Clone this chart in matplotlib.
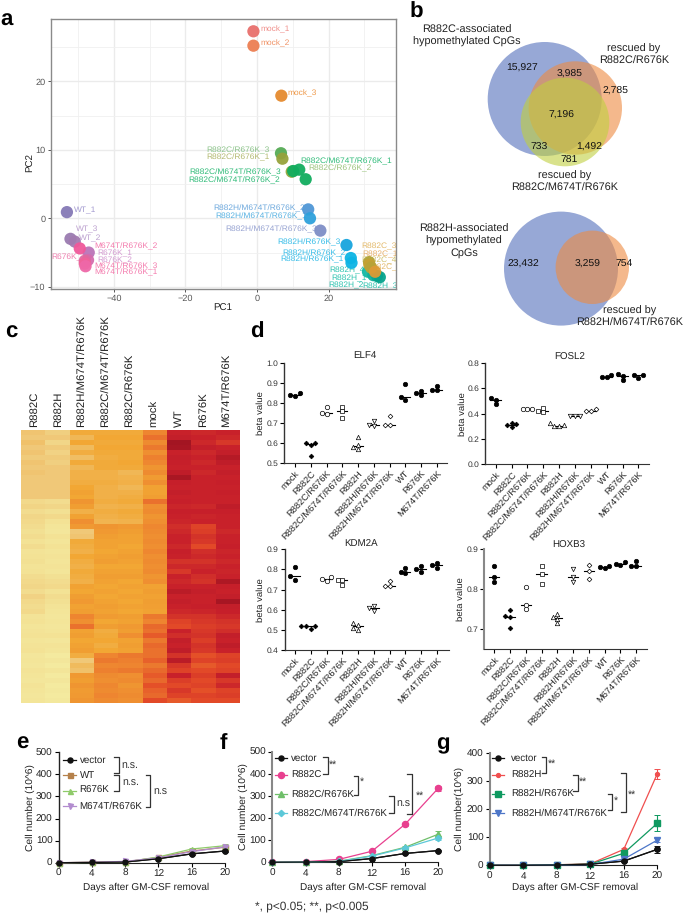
import numpy as np
import matplotlib
matplotlib.use('Agg')
import matplotlib.pyplot as plt
from matplotlib.colors import LinearSegmentedColormap
from matplotlib.patches import Circle

plt.rcParams['font.family'] = ['Liberation Sans', 'DejaVu Sans']
plt.rcParams['text.hinting'] = 'no_hinting'

W, H = 685, 914

# ------------------------------------------
# PANEL A DATA
pca_names = ['mock_1', 'mock_2', 'mock_3', 'R882C/R676K_3', 'R882C/R676K_1', 'R882C/R676K_2',
             'R882C/M674T/R676K_3', 'R882C/M674T/R676K_1', 'R882C/M674T/R676K_2',
             'R882H/M674T/R676K_2', 'R882H/M674T/R676K_1', 'R882H/M674T/R676K_3',
             'R882H/R676K_3', 'R882H/R676K_2', 'R882H/R676K_1',
             'R882H_4', 'R882H_1', 'R882H_2', 'R882H_3',
             'R882C_3', 'R882C_1', 'R882C_4', 'R882C_2',
             'WT_1', 'WT_3', 'WT_2', 'R676K_1', 'R676K_2', 'R676K_3',
             'M674T/R676K_2', 'M674T/R676K_3', 'M674T/R676K_1']
pca_x = [-1.0, -1.0, 6.8, 6.7, 7.1, 9.7, 10.1, 11.8, 13.6, 14.3, 14.8, 17.7, 25.0, 26.2, 26.4,
         31.0, 32.5, 33.5, 34.3, 31.3, 31.4, 31.9, 33.0,
         -53.1, -52.1, -50.9, -47.0, -47.2, -48.1, -49.5, -48.1, -47.9]
pca_y = [27.3, 25.2, 17.9, 9.5, 8.7, 6.8, 6.9, 7.1, 5.7, 1.3, 0.0, -1.8, -3.9, -5.8, -6.5,
         -7.8, -8.3, -8.4, -8.6, -6.4, -6.8, -7.2, -7.8,
         0.9, -3.0, -3.4, -5.0, -6.1, -6.2, -4.4, -6.6, -7.0]
pca_colors = ['#e8706c', '#ec7f52', '#e58a2e', '#56ab55', '#97a23c', '#8fa63a',
              '#12ad5f', '#12ad5f', '#12ad5f', '#4f97d6', '#2fa1dc', '#7e8ec6',
              '#18a5de', '#0db4e4', '#0db4e4', '#14b9a4', '#12b09a', '#0aa893', '#06a38d',
              '#b3a436', '#c4a133', '#b8a338', '#dd9a35',
              '#8579b6', '#9a7bb0', '#a27bb0', '#bb74b8', '#d46cae', '#e0689e',
              '#f0589a', '#f0629a', '#ee68a8']
pca_text_colors = ['#f0908c', '#f09468', '#ee9a4c', '#8cc38a', '#b3b970', '#9cc47e',
                   '#2fbb78', '#2fbb78', '#2fbb78', '#6ea9dd', '#58b2e2', '#98a4d2',
                   '#38bde8', '#38bde8', '#38bde8', '#2fc4b0', '#2fc4b0', '#2fc4b0', '#2fc4b0',
                   '#e3b96a', '#e8b06a', '#cfc06c', '#e3b96a',
                   '#a39ad0', '#bca0cf', '#bca0cf', '#d39ad0', '#d39ad0', '#ee7fae',
                   '#f47cae', '#f47cae', '#f47cae']
# label left edge and centre height, in 3x crop pixels
pca_label_pos = [(781, 87), (782, 130), (863, 281), (618, 451), (618, 471), (925, 504),
                 (569, 517), (902, 484), (566, 541), (641, 624), (645, 650), (677, 688),
                 (833, 728), (847, 760), (842, 778), (987, 810), (995, 836), (984, 857), (1086, 860),
                 (1085, 740), (1088, 762), (1085, 782), (1100, 803),
                 (222, 632), (229, 688), (237, 714), (292, 761), (292, 781), (153, 771),
                 (282, 738), (284, 800), (282, 818)]

# ------------------------------------------
# PANEL C DATA
heat_labels = ['R882C', 'R882H', 'R882H/M674T/R676K', 'R882C/M674T/R676K', 'R882C/R676K',
               'mock', 'WT', 'R676K', 'M674T/R676K']
heat_r882c = [.22, .2, .24, .2, .22, .18, .22, .2, .22, .2, .2, .2, .2, .2,
              .1, .13, .08, .12, .1, .08, .06, .08,
              .05, .08, .04, .05, .06, .04, .05, .08, .1,
              .12, .08, .14, .1, .08, .1,
              .04, .05, .03,
              .04, .05, .03, .04, .05,
              .02, .03, .02, .04,
              .03, .02, .04, .03, .02, .03]
heat_r882h = [.16, .2, .12, .18, .14, .18, .16, .2, .2, .2, .2, .2, .2, .2,
              .08, .12, .06, .1, .05, .03, .02, .05,
              .03, .05, .03, .04, .03, .04, .03, .06, .08,
              .1, .05, .08, .06, .04, .03,
              .02, .03, .02,
              .03, .05, .02, .04, .03,
              .0, .02, .0, .03,
              .0, .02, .0, .01, .0, .01]
heat_r882h_m = [.38, .3, .4, .28, .36, .26, .38, .3, .34, .34, .36, .4, .42, .4,
                .48, .44, .34, .42, .5, .46, .2, .22,
                .38, .36, .34, .4, .36, .34, .38, .36, .34,
                .42, .4, .44, .46, .42, .44,
                .55, .5, .6,
                .42, .44, .4, .42, .44,
                .36, .2, .28, .24,
                .46, .44, .48, .45, .46, .48]
heat_r882c_m = [.38, .4, .38, .4, .38, .36, .38, .38, .34, .34, .36, .34, .34, .34,
                .36, .33, .36, .34, .32, .48, .46, .44,
                .42, .42, .4, .42, .44, .4, .42, .44, .42,
                .4, .42, .4, .42, .44, .42,
                .45, .4, .44,
                .36, .38, .4, .36, .4,
                .55, .58, .54, .56,
                .52, .5, .54, .52, .55, .52]
heat_r882c_r = [.38, .4, .38, .4, .38, .38, .4, .38, .3, .33, .34, .3, .34, .36,
                .38, .34, .38, .36, .33, .46, .44, .42,
                .42, .4, .42, .44, .42, .4, .42, .44, .4,
                .42, .4, .42, .4, .42, .4,
                .44, .42, .46,
                .44, .5, .42, .44, .42,
                .58, .56, .55, .58,
                .5, .52, .48, .5, .52, .5]
heat_mock = [.55, .6, .52, .58, .5, .56, .54, .48, .52, .45, .5, .42, .42, .44,
             .6, .5, .52, .48, .5, .54, .52, .5,
             .52, .5, .54, .5, .52, .5, .52, .48, .5,
             .42, .44, .42, .44, .43, .42,
             .58, .55, .62,
             .6, .66, .58, .62, .6,
             .6, .64, .58, .62,
             .66, .62, .68, .64, .62, .7]
heat_wt = [.84, .86, 1.0, .98, .84, .86, .85, .84, .88, .97, .85, .84, .86, .84,
           .85, .83, .85, .84, .83, .8, .82, .84,
           .84, .82, .85, .84, .78, .82, .76, .84, .82,
           .84, .9, .84, .86, .84, .82,
           .78, .72, .7,
           .84, .8, .86, .84, .88,
           .78, .9, .76, .72,
           .84, .74, .7, .76, .72, .66]
heat_r676k = [.82, .84, .82, .86, .82, .84, .82, .84, .82, .84, .84, .84, .84, .84,
              .84, .82, .85, .83, .84, .72, .74, .78,
              .76, .7, .8, .82, .78, .82, .84, .8, .78,
              .84, .86, .84, .84, .85, .83,
              .78, .76, .74,
              .76, .78, .74, .78, .76,
              .68, .72, .66, .7,
              .74, .7, .72, .68, .72, .7]
heat_m674t = [.84, .82, .76, .84, .86, .92, .88, .84, .86, .84, .85, .84, .85, .84,
              .84, .88, .85, .84, .84, .84, .82, .84,
              .84, .85, .83, .84, .82, .84, .83, .84, .95,
              .85, .84, .86, .98, .86, .85,
              .82, .78, .76,
              .8, .86, .84, .88, .84,
              .72, .74, .7, .72,
              .86, .76, .82, .72, .74, .7]

# ------------------------------------------
# PANEL D DATA
beta_groups = ['mock', 'R882C', 'R882C/R676K', 'R882C/M674T/R676K', 'R882H', 'R882H/R676K',
               'R882H/M674T/R676K', 'WT', 'R676K', 'M674T/R676K']
beta_markers = ['o', 'D', 'o', 's', '^', 'v', 'D', 'o', 'o', 'o']
beta_filled = [True, True, False, False, False, False, False, True, True, True]
elf4 = [[.835, .848, .84], [.60, .59, .60, .535], [.78, .745, .75], [.778, .76, .723],
        [.63, .59, .57, .58], [.71, .685, .69], [.735, .688, .69],
        [.895, .83, .815], [.86, .84, .85], [.885, .865, .865]]
fosl2 = [[.525, .48, .51], [.295, .325, .31, .315], [.435, .435, .435], [.445, .41, .42],
         [.30, .325, .30, .31], [.385, .38, .385], [.42, .44, .425],
         [.69, .71, .695], [.715, .67, .70], [.685, .705, .705]]
kdm2a = [[.81, .765, .748], [.505, .52, .518, .518], [.745, .76, .755], [.75, .75, .725],
         [.535, .50, .525, .51], [.595, .62, .61], [.745, .72, .72],
         [.805, .78, .785], [.815, .785, .80], [.83, .805, .82]]
hoxb3 = [[.858, .83, .818], [.748, .732, .73, .703], [.805, .76, .75], [.857, .836, .813],
         [.729, .738, .724, .714], [.85, .83, .817], [.86, .845, .825],
         [.852, .857, .855], [.86, .868, .862], [.87, .856, .856]]

# ------------------------------------------
# PANELS E-G DATA
days = [0, 4, 8, 12, 16, 20]
e_names = ['vector', 'WT', 'R676K', 'M674T/R676K']
e_values = [[0, 1, 3, 18, 40, 53], [0, 2, 4, 24, 53, 70], [0, 1, 3, 26, 62, 77], [0, 2, 6, 22, 50, 72]]
e_errors = [[0, 0, 1, 2, 4, 5], [0, 0, 1, 2, 4, 6], [0, 0, 1, 2, 4, 6], [0, 0, 1, 2, 4, 6]]
f_names = ['vector', 'R882C', 'R882C/R676K', 'R882C/M674T/R676K']
f_values = [[0, 1, 3, 17, 40, 53], [0, 3, 13, 50, 172, 335], [0, 1, 5, 30, 68, 127], [0, 1, 4, 28, 65, 110]]
f_errors = [[0, 0, 1, 2, 3, 4], [0, 1, 2, 4, 6, 12], [0, 0, 1, 3, 4, 15], [0, 0, 1, 3, 4, 10]]
g_names = ['vector', 'R882H', 'R882H/R676K', 'R882H/M674T/R676K']
g_values = [[0, 0, 1, 4, 15, 57], [0, 0, 2, 5, 57, 327], [0, 0, 2, 4, 43, 150], [0, 0, 1, 3, 22, 90]]
g_errors = [[0, 0, 0, 1, 2, 12], [0, 0, 0, 1, 4, 17], [0, 0, 0, 1, 5, 28], [0, 0, 0, 1, 3, 6]]


fig = plt.figure(figsize=(W / 100, H / 100), dpi=100)


def axpx(left, top, right, bottom):
    return fig.add_axes([left / W, 1 - bottom / H, (right - left) / W, (bottom - top) / H])


# overlay in image pixels, for letters, venn shapes, brackets and hand-placed legends
ov = fig.add_axes([0, 0, 1, 1], zorder=10)
ov.set_xlim(0, W)
ov.set_ylim(H, 0)
ov.axis('off')
ov.patch.set_alpha(0)

for letter, lx, ly in [('a', 0, 26), ('b', 410, 18), ('c', 5, 338), ('d', 250, 338),
                       ('e', 16, 749), ('f', 220, 749), ('g', 436, 749)]:
    ov.text(lx, ly, letter, fontsize=16, fontweight='bold', ha='left', va='baseline', color='black')

# ------------------------------------------
# A: PCA
ax = axpx(51, 19, 396, 289)
ax.set_xlim((51 - 257) / 3.58, (396 - 257) / 3.58)
ax.set_ylim((218.3 - 289) / 6.85, (218.3 - 19) / 6.85)
ax.set_xticks([-40, -20, 0, 20])
ax.set_yticks([-10, 0, 10, 20])
ax.set_xticks([-50, -30, -10, 10, 30], minor=True)
ax.set_yticks([-5, 5, 15, 25], minor=True)
ax.grid(True, which='major', color='#ebebeb', lw=1)
ax.grid(True, which='minor', color='#f0f0f0', lw=0.6)
ax.set_axisbelow(True)
ax.tick_params(which='minor', length=0)
ax.tick_params(which='major', length=2.5, width=0.7, color='#555555', labelcolor='#555555',
               labelsize=6.6, pad=1.5)
for s in ax.spines.values():
    s.set_color('#8a8a8a')
    s.set_linewidth(1)
ov.text(223, 308, 'PC1', fontsize=7, ha='center', va='center', color='#222222')
ov.text(30.5, 163, 'PC2', fontsize=7, rotation=90, ha='center', va='center', color='#222222')
for name, tc, (zx, zy) in zip(pca_names, pca_text_colors, pca_label_pos):
    ax.text(zx / 3, zy / 3, name, transform=ov.transData, color=tc, fontsize=6, ha='left',
            va='center', zorder=2, clip_on=True)
ax.scatter(pca_x, pca_y, s=78, c=pca_colors, linewidths=0, alpha=0.95, zorder=3, clip_on=True)

# ------------------------------------------
# B: venn diagrams
blue, orange, green = '#97a8d6', '#ee8a40', '#c0d03f'
ov.add_patch(Circle((544.7, 99), 57, fc=blue, ec='none'))
ov.add_patch(Circle((575.3, 108), 46.7, fc=orange, ec='none', alpha=0.6))
ov.add_patch(Circle((565, 122), 44.3, fc=green, ec='none', alpha=0.6))
ov.add_patch(Circle((561, 268.6), 57, fc=blue, ec='none'))
ov.add_patch(Circle((592.3, 267.3), 36.7, fc=orange, ec='none', alpha=0.6))

venn_text = [('R882C-associated\nhypomethylated CpGs', 467, 36),
             ('rescued by\nR882C/R676K', 634, 55),
             ('rescued by\nR882C/M674T/R676K', 565, 182),
             ('R882H-associated\nhypomethylated\nCpGs', 464, 241),
             ('rescued by\nR882H/M674T/R676K', 630, 317)]
for txt, tx, ty in venn_text:
    ov.text(tx, ty, txt, fontsize=7.8, ha='center', va='center', color='#222222', linespacing=1.22)
venn_counts = [('15,927', 365, 203), ('3,985', 508, 221), ('2,785', 646, 273), ('7,196', 485, 344),
               ('733', 416, 441), ('1,492', 568, 441), ('781', 507, 481),
               ('23,432', 370, 791), ('3,259', 564, 791), ('754', 671, 791)]
for txt, zx, zy in venn_counts:
    ov.text(400 + zx / 3, zy / 3, txt, fontsize=7.5, ha='center', va='center', color='#111111')

# ------------------------------------------
# C: heatmap
heat = np.array([heat_r882c, heat_r882h, heat_r882h_m, heat_r882c_m, heat_r882c_r,
                 heat_mock, heat_wt, heat_r676k, heat_m674t]).T
cmap = LinearSegmentedColormap.from_list('heat', [(0, '#f4ea9f'), (.2, '#f0c878'), (.4, '#f2a734'),
                                                  (.55, '#ee8530'), (.7, '#e34a28'), (.85, '#c7202b'),
                                                  (1, '#a31522')])
ax = axpx(21, 430, 239, 703)
ax.imshow(heat, cmap=cmap, vmin=0, vmax=1, aspect='auto', interpolation='nearest')
ax.axis('off')
for i, name in enumerate(heat_labels):
    ov.text(21 + (i + 0.5) * 218 / 9 + 0.5, 427, name, rotation=90, fontsize=8.2, ha='center',
            va='bottom', color='#222222')


# ------------------------------------------
# D: beta value scatters
def swarm(values, ax_h, span, step=0.3, near=3.6):
    # spread points sideways when they would overlap, same idea as Prism
    placed = []
    out = {}
    for i in np.argsort(values):
        for off in [0, -step, step, -2 * step, 2 * step]:
            ok = True
            for v2, o2 in placed:
                dy = (values[i] - v2) / span * ax_h
                dx = (off - o2) * 15.8
                if dx * dx + dy * dy < near * near:
                    ok = False
            if ok:
                break
        placed.append((values[i], off))
        out[i] = off
    return [out[i] for i in range(len(values))]


def beta_panel(box, cat0, catw, ylim, yticks, title, title_xy, data, ylabelx, thick_left=False):
    left, top, right, bottom = box
    ax = axpx(left, top, right, bottom)
    ax.set_xlim((left - cat0) / catw, (right - cat0) / catw)
    ax.set_ylim(*ylim)
    ax.set_yticks(yticks)
    ax.set_yticklabels(['%.1f' % t for t in yticks])
    ax.set_xticks(range(len(beta_groups)))
    ax.set_xticklabels(beta_groups, rotation=47, ha='right', rotation_mode='anchor', fontsize=6.7,
                       color='#222222')
    for i, vals in enumerate(data):
        offs = swarm(vals, bottom - top, ylim[1] - ylim[0])
        ax.plot([i - .33, i + .33], [np.median(vals)] * 2, color='black', lw=0.8, zorder=2)
        size = 2.4 if beta_markers[i] == 'D' else 3.2
        fc = 'black' if beta_filled[i] else 'white'
        ax.plot(np.array(offs) + i, vals, ls='none', marker=beta_markers[i], ms=size, mfc=fc,
                mec='black', mew=0.5, zorder=3)
    ax.spines['top'].set_visible(False)
    ax.spines['right'].set_visible(False)
    ax.spines['left'].set_color('#888888' if thick_left else '#333333')
    ax.spines['left'].set_linewidth(1.5 if thick_left else 1)
    ax.spines['bottom'].set_color('#333333')
    ax.tick_params(axis='y', labelsize=6.1, length=3, width=0.8, pad=1.2, labelcolor='#333333')
    ax.tick_params(axis='x', length=3, width=0.8, pad=1.5)
    ax.patch.set_alpha(0)
    ov.text(title_xy[0], title_xy[1], title, fontsize=7, ha='center', va='center', color='#222222')
    ov.text(ylabelx, (top + bottom) / 2, 'beta value', fontsize=6.8, rotation=90, ha='center', va='center',
            color='#222222')


beta_panel((284.3, 362.7, 447, 463), 295, 15.75, (0.5, 1.0), [.5, .6, .7, .8, .9, 1.0], 'ELF4', (364.7, 355.7),
           elf4, 261)
beta_panel((485.3, 363.3, 648.7, 464), 495.7, 15.85, (0, 0.8), [0, .2, .4, .6, .8], 'FOSL2', (569.3, 357),
           fosl2, 462.5)
beta_panel((284.7, 549.3, 448.7, 650), 295, 15.75, (0.4, 0.9), [.4, .5, .6, .7, .8, .9], 'KDM2A', (360.7, 543),
           kdm2a, 261)
beta_panel((484.3, 548.7, 646.7, 649), 494.3, 15.75, (0.65, 0.9), [.7, .8, .9], 'HOXB3', (568.7, 545),
           hoxb3, 461, True)


# ------------------------------------------
# E-G: growth curves
def growth_panel(box, ymax, yticks, names, values, errors, colors, markers, sizes, ylabel, origin,
                 legend_x, legend_y, brackets, notes, thick_left, ylabelx, xlabelx):
    left, top, right, bottom = box
    ax = axpx(left, top, right, bottom)
    ax.set_xlim(0, 20)
    ax.set_ylim(0, ymax)
    ax.set_xticks(days)
    ax.set_yticks(yticks)
    for vals, errs, c, m, ms in zip(values, errors, colors, markers, sizes):
        ax.errorbar(days, vals, yerr=errs, color=c, marker=m, ms=ms, lw=0.9, elinewidth=0.8, capsize=2,
                    capthick=0.7, clip_on=False, zorder=3)
    ax.plot(days, values[0], color=colors[0], marker=markers[0], ms=sizes[0], lw=0.9, clip_on=False, zorder=4)
    ax.spines['top'].set_visible(False)
    ax.spines['right'].set_visible(False)
    ax.spines['left'].set_color('#888888' if thick_left else '#222222')
    ax.spines['left'].set_linewidth(1.5 if thick_left else 1)
    ax.spines['bottom'].set_color('#222222')
    ax.tick_params(length=3, width=0.8, labelsize=7.2, pad=1.5, labelcolor='#222222')
    ax.patch.set_alpha(0)
    ov.text(xlabelx, 887.5, 'Days after GM-CSF removal', fontsize=7.2, ha='center', va='center', color='#222222')
    ov.text(ylabelx, (top + bottom) / 2, ylabel, fontsize=7.4, rotation=90, ha='center', va='center',
            color='#222222')

    ox, oy = origin
    for name, c, m, ms, zy in zip(names, colors, markers, sizes, legend_y):
        ov.plot([ox + legend_x[0] / 3, ox + legend_x[1] / 3], [oy + zy / 3] * 2, color=c, lw=0.9)
        ov.plot([ox + (legend_x[0] + legend_x[1]) / 6], [oy + zy / 3], color=c, marker=m, ms=ms, ls='none')
        ov.text(ox + legend_x[2] / 3, oy + zy / 3, name, fontsize=7.0, ha='left', va='center', color='#222222')
    for x0, x1, y0, y1 in brackets:
        ov.plot([ox + x0 / 3, ox + x1 / 3, ox + x1 / 3, ox + x0 / 3],
                [oy + y0 / 3, oy + y0 / 3, oy + y1 / 3, oy + y1 / 3], color='#333333', lw=0.9)
    for txt, zx, zy in notes:
        ov.text(ox + zx / 3, oy + zy / 3, txt, fontsize=7.6, ha='left', va='center', color='#333333')


growth_panel((58.7, 752.3, 225, 862.7), 500, [0, 100, 200, 300, 400, 500], e_names, e_values, e_errors,
             ['#111111', '#b5814b', '#8fca6a', '#b28ccf'], ['o', 's', '^', 'v'], [3.6, 3.6, 3.6, 3.6],
             'Cell number (10^6)', (0, 700), (190, 228, 239), [180, 225, 272, 318],
             [(343, 356, 172, 220), (343, 356, 226, 273), (437, 451, 226, 320)],
             [('n.s.', 365, 197), ('n.s.', 367, 249), ('n.s', 461, 277)], False, 30, 145.7)
growth_panel((272.3, 751.7, 438.3, 862.3), 500, [0, 100, 200, 300, 400, 500], f_names, f_values, f_errors,
             ['#111111', '#e8408f', '#6fbf6a', '#5cc8d8'], ['o', 'o', '^', 'D'], [3.6, 4.4, 4.4, 3.2],
             'Cell number (10^6)', (230, 700), (136, 172, 183), [174, 226, 282, 340],
             [(280, 293, 172, 222), (372, 385, 228, 285), (478, 491, 288, 338), (531, 545, 221, 341)],
             [('**', 297, 194), ('*', 390, 247), ('n.s', 500, 313), ('**', 557, 288)], True, 243, 363)
growth_panel((489.7, 753.3, 657.3, 865.3), 400, [0, 100, 200, 300, 400], g_names, g_values, g_errors,
             ['#111111', '#f04f4f', '#0f9960', '#4d76c8'], ['o', 'o', 's', 'v'], [3.6, 2.8, 4.4, 3.8],
             'Cell number(10^6)', (455, 700), (110, 147, 168), [174, 225, 281, 339],
             [(260, 273, 170, 220), (355, 368, 226, 273), (458, 471, 283, 330), (498, 512, 218, 336)],
             [('**', 277, 191), ('**', 371, 245), ('*', 476, 302), ('**', 517, 285)], True, 459, 575)

ov.text(255, 906, '*, p<0.05; **, p<0.005', fontsize=8.6, ha='left', va='center', color='#333333')

plt.savefig('out.png', dpi=100)
